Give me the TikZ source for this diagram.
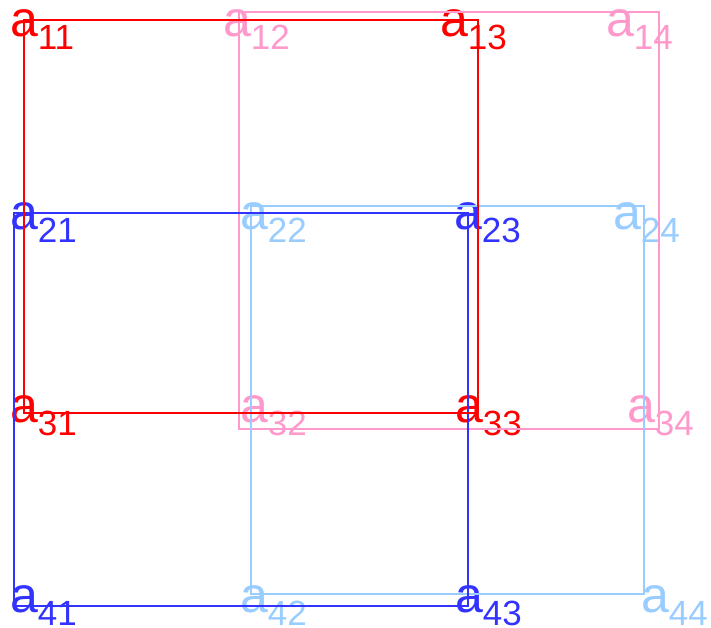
\documentclass[tikz,border=0pt]{standalone}
\usepackage{fontspec}
\setmainfont{Liberation Sans}
\definecolor{cred}{RGB}{255,0,0}
\definecolor{cpink}{RGB}{255,153,204}
\definecolor{cblue}{RGB}{51,51,255}
\definecolor{clight}{RGB}{153,204,255}
\newcommand{\lab}[1]{{\fontsize{50}{50}\selectfont a}\raisebox{-13pt}{\fontsize{35}{35}\selectfont #1}}
\begin{document}
\begin{tikzpicture}[x=1pt,y=-1pt,
  lbl/.style={anchor=base west, inner sep=0pt, outer sep=0pt},
  box/.style={line width=1.8pt}]
\useasboundingbox (0,0) rectangle (711,628);
% labels
\node[lbl, text=cred]   (a11) at (10,36.5)  {\lab{11}};
\node[lbl, text=cpink]  (a12) at (223,36.5) {\lab{12}};
\node[lbl, text=cred]   (a13) at (440,36.5) {\lab{13}};
\node[lbl, text=cpink]  (a14) at (606,36.5) {\lab{14}};
\node[lbl, text=cblue]  (a21) at (10,229.5)  {\lab{21}};
\node[lbl, text=clight] (a22) at (240,229.5) {\lab{22}};
\node[lbl, text=cblue]  (a23) at (454,229.5) {\lab{23}};
\node[lbl, text=clight] (a24) at (613,229.5) {\lab{24}};
\node[lbl, text=cred]   (a31) at (10,422)  {\lab{31}};
\node[lbl, text=cpink]  (a32) at (240,422) {\lab{32}};
\node[lbl, text=cred]   (a33) at (455,422) {\lab{33}};
\node[lbl, text=cpink]  (a34) at (627,422) {\lab{34}};
\node[lbl, text=cblue]  (a41) at (10,612)  {\lab{41}};
\node[lbl, text=clight] (a42) at (240,612) {\lab{42}};
\node[lbl, text=cblue]  (a43) at (455,612) {\lab{43}};
\node[lbl, text=clight] (a44) at (641,612) {\lab{44}};
% corners
\coordinate (r11) at (24,20);   \coordinate (r13) at (478,20);
\coordinate (r33) at (478,413); \coordinate (r31) at (24,413);
\coordinate (p12) at (239,12);  \coordinate (p14) at (659,12);
\coordinate (p34) at (659,429); \coordinate (p32) at (239,429);
\coordinate (b21) at (14,213);  \coordinate (b23) at (468,213);
\coordinate (b43) at (468,606); \coordinate (b41) at (14,606);
\coordinate (l22) at (251,206); \coordinate (l24) at (644,206);
\coordinate (l44) at (644,594); \coordinate (l42) at (251,594);
% rectangles
\draw[box, cpink]  (p12) -- (p14) -- (p34) -- (p32) -- cycle;
\draw[box, clight] (l22) -- (l24) -- (l44) -- (l42) -- cycle;
\draw[box, cblue]  (b21) -- (b23) -- (b43) -- (b41) -- cycle;
\draw[box, cred]   (r11) -- (r13) -- (r33) -- (r31) -- cycle;
\end{tikzpicture}
\end{document}
